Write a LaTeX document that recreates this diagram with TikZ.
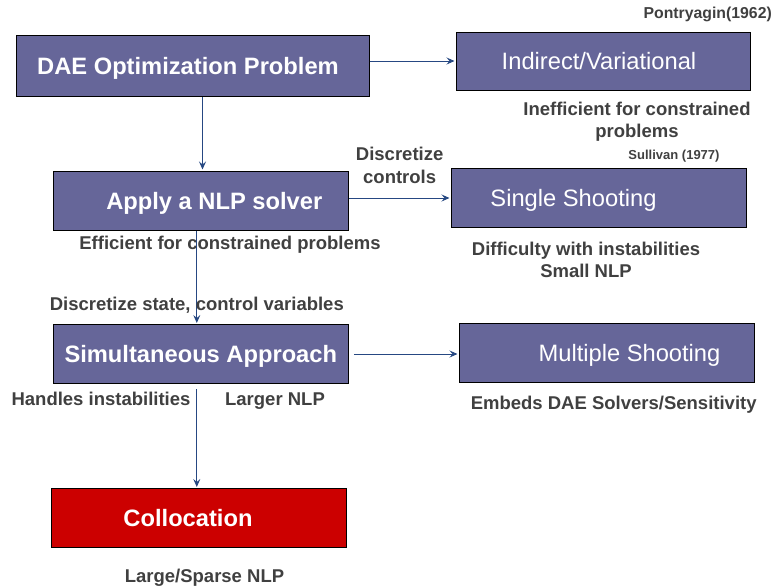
\documentclass[tikz,border=0pt]{standalone}
\usepackage{fontspec}
\setmainfont{Liberation Sans}
\usetikzlibrary{arrows.meta,positioning}

\definecolor{boxblue}{RGB}{102,102,153}
\definecolor{boxred}{RGB}{204,0,0}
\definecolor{linkblue}{RGB}{38,72,130}
\definecolor{notegray}{RGB}{64,64,64}

\begin{document}
\begin{tikzpicture}[x=1pt,y=-1pt,>={Stealth[length=8pt,width=7pt,inset=3pt]},shorten >=1pt,
  method/.style={draw=black,line width=1pt,fill=boxblue,text=white,minimum width=295pt,minimum height=59pt,inner sep=0pt,text depth=0pt,font=\fontsize{23.7}{28}\selectfont},
  mainmethod/.style={method,font=\fontsize{23.7}{28}\selectfont\bfseries},
  note/.style={text=notegray,font=\fontsize{18.5}{21.5}\selectfont\bfseries,align=center,inner sep=0pt,text depth=0pt},
  cite/.style={text=notegray,font=\fontsize{15.8}{18}\selectfont\bfseries,inner sep=0pt},
  link/.style={->,draw=linkblue,line width=1pt}]

\useasboundingbox (0,0) rectangle (774,587);

% left column
\node[mainmethod,minimum width=353pt,minimum height=61pt] (dae) at (192.5,66) {DAE Optimization Problem\hspace*{9pt}};
\node[mainmethod] (nlp) at (200.8,200.5) {\hspace*{27pt}Apply a NLP solver};
\node[mainmethod] (sim) at (200.8,354) {Simultaneous Approach};
\node[mainmethod,fill=boxred] (coll) at (199,518) {Collocation\hspace*{22pt}};

% right column
\node[method,minimum width=294pt,minimum height=58pt] (indirect) at (603,61) {Indirect/Variational\hspace*{8pt}};
\node[method] (single) at (598.5,198) {Single Shooting\hspace*{50pt}};
\node[method] (multiple) at (606.5,353.3) {\hspace*{46pt}Multiple Shooting};

% references
\node[cite,anchor=east] (pontryagin) at (772,14) {Pontryagin(1962)};
\node[cite,font=\fontsize{13}{15}\selectfont\bfseries] (sullivan) at (674,156.5) {Sullivan (1977)};

% remarks
\node[note] (indnote) at (637,120) {Inefficient for constrained\\problems};
\node[note] (nlpnote) at (230,243) {Efficient for constrained problems};
\node[note] (singlenote) at (586,260) {Difficulty with instabilities\\Small NLP};
\node[note] (stable) at (101,399) {Handles instabilities};
\node[note] (larger) at (275,399) {Larger NLP};
\node[note] (multinote) at (613.7,403) {Embeds DAE Solvers/Sensitivity};
\node[note] (collnote) at (204.5,576) {Large/Sparse NLP};

\draw[link] (dae.east |- indirect.west) -- (indirect.west);
\draw[link] ([xshift=10pt]dae.south) -- ([xshift=10pt]dae.south |- nlp.north);
\draw[link] (nlp.east |- single.west) -- node[note,font=\fontsize{18.5}{23}\selectfont\bfseries,above=14pt] {Discretize\\controls} (single.west);
\draw[link] ([xshift=-4pt]nlp.south) -- node[note,pos=0.785] {Discretize state, control variables} ([xshift=-4pt]nlp.south |- sim.north);
\draw[link,shorten <=5pt] (sim.east) -- (sim.east -| multiple.west);
\draw[link,shorten <=5pt] ([xshift=-4pt]sim.south) -- ([xshift=-4pt]sim.south |- coll.north);

\end{tikzpicture}
\end{document}
